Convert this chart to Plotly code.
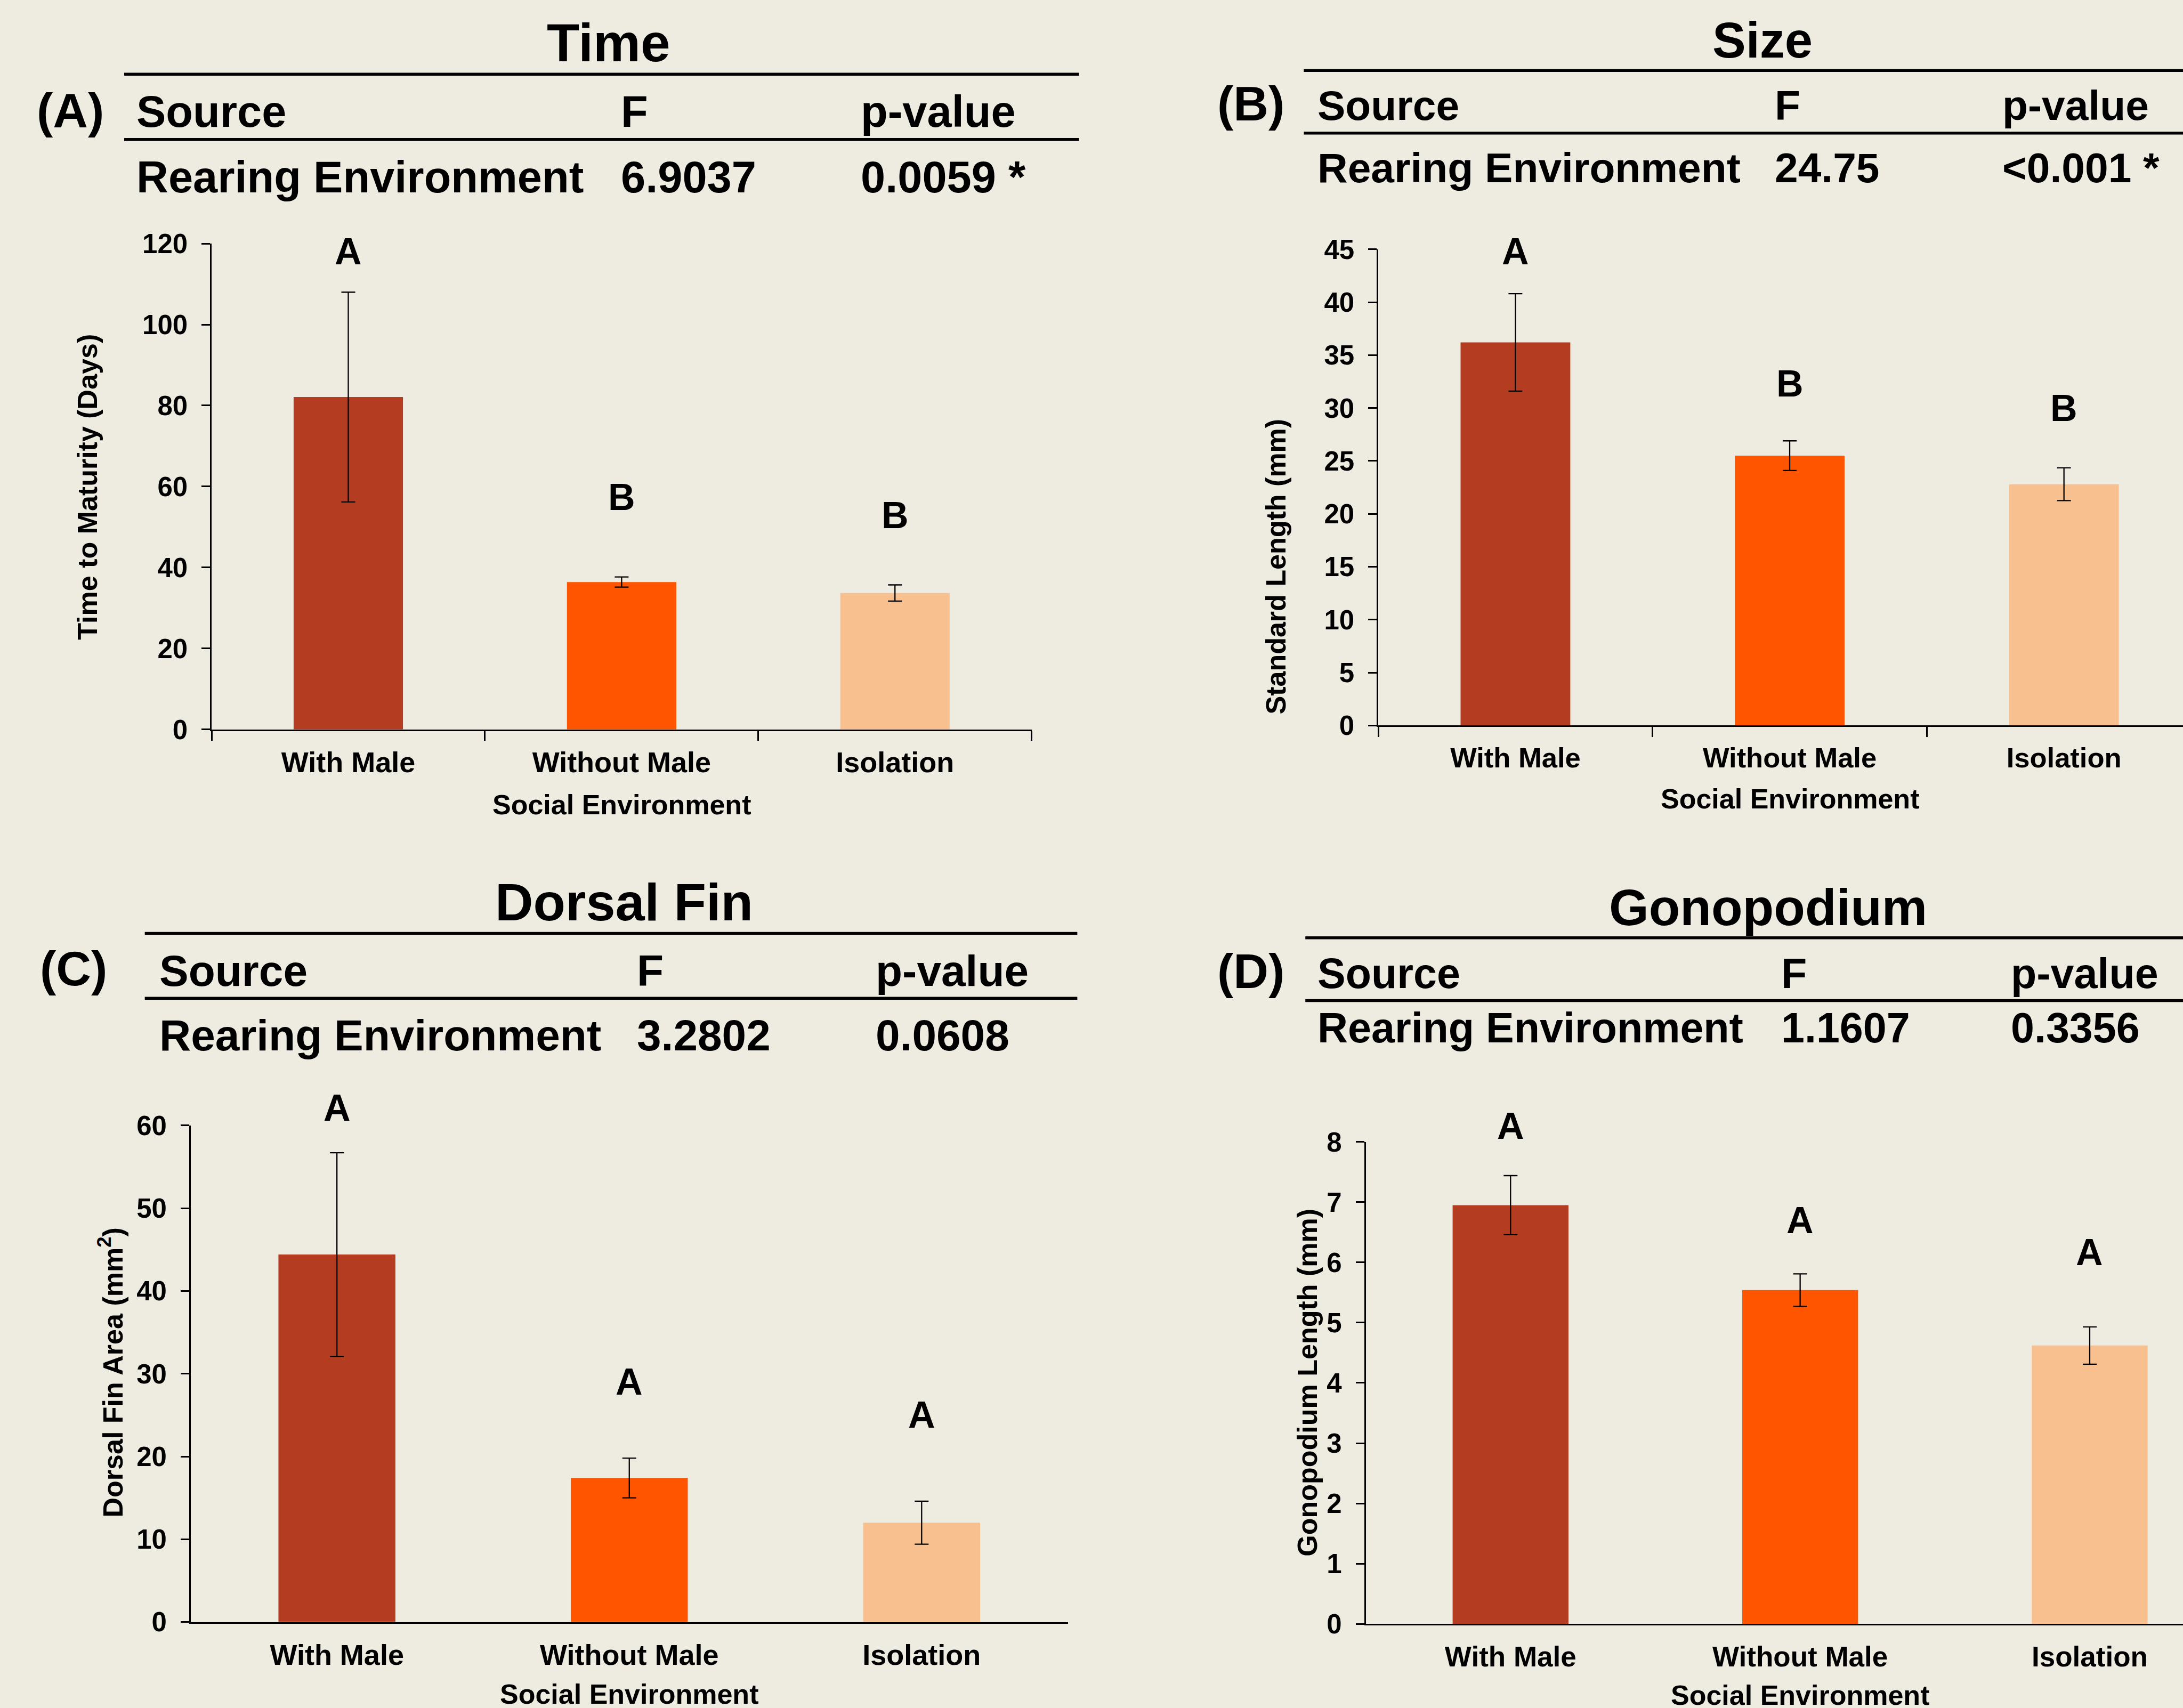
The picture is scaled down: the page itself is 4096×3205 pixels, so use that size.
import plotly.graph_objects as go

# ---------------- data ----------------
categories = ["With Male", "Without Male", "Isolation"]

time_mean = [82.1, 36.4, 33.7]
time_err = [25.9, 1.25, 2.0]
time_letters = ["A", "B", "B"]

size_mean = [36.2, 25.5, 22.8]
size_err = [4.6, 1.4, 1.55]
size_letters = ["A", "B", "B"]

fin_mean = [44.4, 17.4, 12.0]
fin_err = [12.3, 2.4, 2.6]
fin_letters = ["A", "A", "A"]

gono_mean = [6.95, 5.54, 4.62]
gono_err = [0.49, 0.27, 0.31]
gono_letters = ["A", "A", "A"]

panel_titles = ["Time", "Size", "Dorsal Fin", "Gonopodium"]
panel_labels = ["(A)", "(B)", "(C)", "(D)"]
y_titles = ["Time to Maturity (Days)", "Standard Length (mm)",
            "Dorsal Fin Area (mm<sup>2</sup>)", "Gonopodium Length (mm)"]
x_title = "Social Environment"
table_header = ["Source", "F", "p-value"]
table_source = "Rearing Environment"
f_values = ["6.9037", "24.75", "3.2802", "1.1607"]
p_values = ["0.0059 *", "<0.001 *", "0.0608", "0.3356"]

bar_colors = ["#B43C21", "#FF5500", "#F9C08F"]
BG = "#EEEBE0"
FONT = "Liberation Sans, Arial, sans-serif"

W, H = 4096, 3205
RW, RH = 1568.0, 1227.0  # layout reference grid


def PX(x):
    return x / RW


def PY(y):
    return 1 - y / RH


# ---------------- layout per panel ----------------
panels = [
    dict(mean=time_mean, err=time_err, letters=time_letters,
         letter_y=[118.0, 57.3, 52.9],
         xdom=(152, 741), ydom=(524, 175), yr=[0, 120], dtick=20,
         xr=[-0.5, 2.5], xticks=True,
         title_xy=(437, 30.8), lab_xy=(26, 79.5),
         lines=(89.2, 775, 53.3, 100.2), row_y=(80.3, 127.2),
         cols=(97.7, 445.5, 617.7), ytitle_xy=(63, 350), xtitle_y=578,
         title_fs=100, table_fs=83, xtick_fs=54),
    dict(mean=size_mean, err=size_err, letters=size_letters,
         letter_y=[44.8, 32.3, 30.0],
         xdom=(990, 1568), ydom=(521.2, 179.1), yr=[0, 45], dtick=5,
         xr=[-0.5, -0.5 + 578 / 197.0], xticks=True,
         title_xy=(1266, 29), lab_xy=(874, 74.6),
         lines=(936.5, 1568, 50.6, 95.6), row_y=(75.7, 120.6),
         cols=(946, 1274.5, 1438), ytitle_xy=(916.6, 407), xtitle_y=574,
         title_fs=94, table_fs=78.5, xtick_fs=52.5),
    dict(mean=fin_mean, err=fin_err, letters=fin_letters,
         letter_y=[62.1, 29.0, 25.0],
         xdom=(137, 767), ydom=(1165.2, 808.5), yr=[0, 60], dtick=10,
         xr=[-0.5, 2.5], xticks=False,
         title_xy=(448.3, 648), lab_xy=(28.5, 696),
         lines=(104, 773.8, 670.5, 717.2), row_y=(697.5, 743.7),
         cols=(114, 457, 628.6), ytitle_xy=(80, 986), xtitle_y=1217,
         title_fs=99, table_fs=82, xtick_fs=54),
    dict(mean=gono_mean, err=gono_err, letters=gono_letters,
         letter_y=[8.26, 6.70, 6.17],
         xdom=(981, 1568), ydom=(1166.6, 820.3), yr=[0, 8], dtick=1,
         xr=[-0.5, -0.5 + 587 / 208.0], xticks=False,
         title_xy=(1270, 651.6), lab_xy=(874, 697.8),
         lines=(937.6, 1568, 673.7, 718.8), row_y=(699.3, 738.2),
         cols=(946, 1279, 1444), ytitle_xy=(939, 993), xtitle_y=1218,
         title_fs=96, table_fs=79, xtick_fs=53),
]

fig = go.Figure()
annotations = []
shapes = []

LAB_FS = 91
YTICK_FS = 51
AXT_FS = 52
LETTER_FS = 70

for i, p in enumerate(panels):
    n = "" if i == 0 else str(i + 1)
    xa, ya = "x" + n, "y" + n
    fig.add_trace(go.Bar(
        x=categories, y=p["mean"], width=0.4,
        marker=dict(color=bar_colors, line=dict(width=0)),
        error_y=dict(type="data", array=p["err"], visible=True,
                     color="black", thickness=2.3, width=13),
        xaxis=xa, yaxis=ya, showlegend=False, hoverinfo="skip"))

    y0d, y1d = PY(p["ydom"][0]), PY(p["ydom"][1])
    xaxis = dict(
        domain=[PX(p["xdom"][0]), PX(p["xdom"][1])], anchor=ya,
        type="category", range=p["xr"], showline=True, linecolor="black",
        linewidth=2.5, showgrid=False, zeroline=False, automargin=False,
        tickfont=dict(family=FONT, size=p["xtick_fs"], color="black", weight="bold"),
        ticks="outside" if p["xticks"] else "", tickson="boundaries",
        ticklen=19, tickwidth=2.5, tickcolor="black",
        ticklabelstandoff=13,
    )
    yaxis = dict(
        domain=[y0d, y1d], anchor=xa,
        range=p["yr"], dtick=p["dtick"], tick0=0, showline=True,
        linecolor="black", linewidth=2.5, showgrid=False, zeroline=False,
        automargin=False,
        ticks="outside", ticklen=16, tickwidth=2.5, tickcolor="black",
        tickfont=dict(family=FONT, size=YTICK_FS, color="black", weight="bold"),
        ticklabelstandoff=16,
    )
    fig.update_layout({"xaxis" + n: xaxis, "yaxis" + n: yaxis})

    # significance letters (y converted to paper so letters above the range stay visible)
    r0, r1 = p["yr"]
    for c, letter, ly in zip(categories, p["letters"], p["letter_y"]):
        ypaper = y0d + (ly - r0) / (r1 - r0) * (y1d - y0d)
        annotations.append(dict(
            x=c, y=ypaper, xref=xa, yref="paper", text=letter, showarrow=False,
            xanchor="center", yanchor="middle", borderpad=0,
            font=dict(family=FONT, size=LETTER_FS, color="black", weight="bold")))

    # titles & table
    tx, ty = p["title_xy"]
    annotations.append(dict(
        x=PX(tx), y=PY(ty), xref="paper", yref="paper", text=panel_titles[i],
        showarrow=False, xanchor="center", yanchor="middle", borderpad=0,
        font=dict(family=FONT, size=p["title_fs"], color="black", weight="bold")))
    lx, lyy = p["lab_xy"]
    annotations.append(dict(
        x=PX(lx), y=PY(lyy), xref="paper", yref="paper", text=panel_labels[i],
        showarrow=False, xanchor="left", yanchor="middle", borderpad=0,
        font=dict(family=FONT, size=LAB_FS, color="black", weight="bold")))
    x0, x1, l1, l2 = p["lines"]
    for ly_ in (l1, l2):
        shapes.append(dict(type="line", xref="paper", yref="paper",
                           x0=PX(x0), x1=PX(x1), y0=PY(ly_), y1=PY(ly_),
                           line=dict(color="black", width=5.5)))
    row1 = table_header
    row2 = [table_source, f_values[i], p_values[i]]
    for row, ry in ((row1, p["row_y"][0]), (row2, p["row_y"][1])):
        for txt, cx in zip(row, p["cols"]):
            annotations.append(dict(
                x=PX(cx), y=PY(ry), xref="paper", yref="paper", text=txt,
                showarrow=False, xanchor="left", yanchor="middle", borderpad=0,
                font=dict(family=FONT, size=p["table_fs"], color="black", weight="bold")))

    # axis titles
    yx, yy = p["ytitle_xy"]
    annotations.append(dict(
        x=PX(yx), y=PY(yy), xref="paper", yref="paper", text=y_titles[i],
        textangle=-90, showarrow=False, xanchor="center", yanchor="middle",
        borderpad=0,
        font=dict(family=FONT, size=AXT_FS, color="black", weight="bold")))
    annotations.append(dict(
        x=categories[1], y=PY(p["xtitle_y"]), xref=xa, yref="paper",
        text=x_title, showarrow=False, xanchor="center", yanchor="middle",
        borderpad=0,
        font=dict(family=FONT, size=AXT_FS, color="black", weight="bold")))

fig.update_layout(
    width=W, height=H, margin=dict(l=0, r=0, t=0, b=0, pad=0, autoexpand=False),
    paper_bgcolor=BG, plot_bgcolor=BG, showlegend=False,
    bargap=0.6, annotations=annotations, shapes=shapes,
    font=dict(family=FONT, color="black"),
)

# remove the default page margin so the figure sits flush in the window
fig.write_html(
    "out.html",
    config={"displayModeBar": False},
    post_script="document.body.style.margin='0';"
                "document.body.style.background='" + BG + "';",
)
